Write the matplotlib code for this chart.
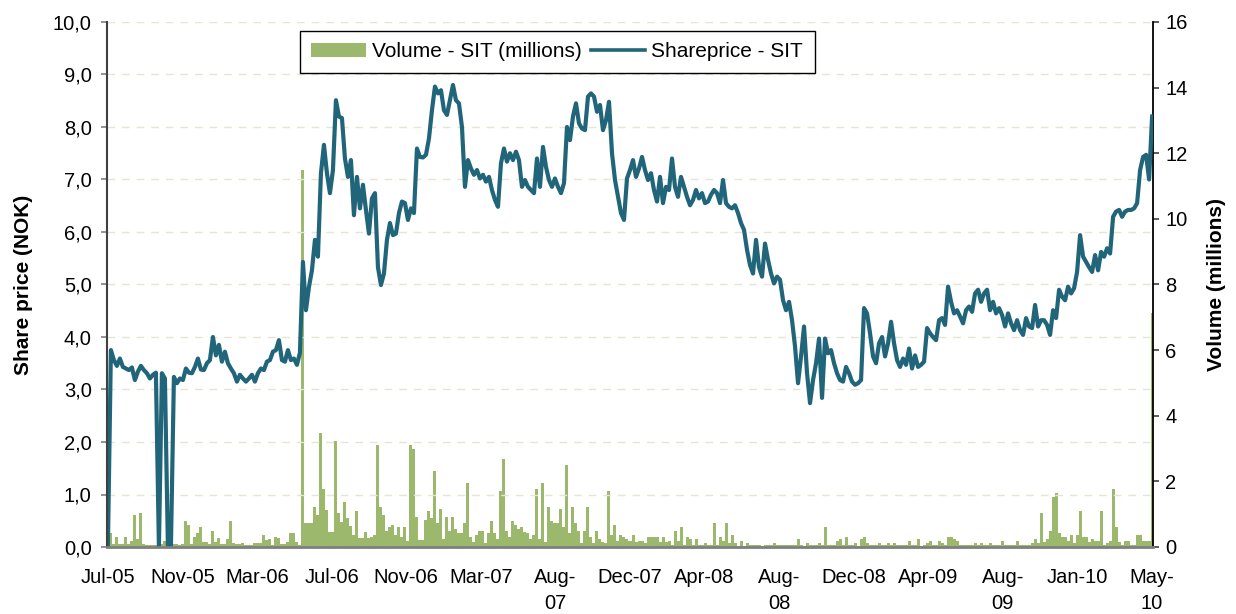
import numpy as np
import matplotlib
matplotlib.use('Agg')
import matplotlib.pyplot as plt
from matplotlib.ticker import FuncFormatter, MultipleLocator
from matplotlib.patches import Patch
from matplotlib.lines import Line2D

# share price (NOK), roughly every 3rd trading day, Jul-05 .. May-10
price = [
    0.0, 3.75, 3.56, 3.45, 3.59, 3.43, 3.40, 3.37, 3.42, 3.18,
    3.34, 3.45, 3.37, 3.31, 3.21, 3.28, 3.32, 0.0, 3.31, 3.21,
    0.0, 0.0, 3.24, 3.12, 3.21, 3.18, 3.40, 3.32, 3.31, 3.43,
    3.59, 3.38, 3.37, 3.50, 3.56, 4.00, 3.65, 3.85, 3.53, 3.72,
    3.50, 3.40, 3.31, 3.15, 3.28, 3.21, 3.15, 3.21, 3.28, 3.15,
    3.31, 3.40, 3.37, 3.53, 3.56, 3.72, 3.75, 3.94, 3.56, 3.53,
    3.75, 3.56, 3.59, 3.47, 3.70, 5.43, 4.51, 4.95, 5.27, 5.85,
    5.53, 7.12, 7.66, 7.12, 6.74, 7.18, 8.51, 8.20, 8.17, 7.40,
    7.05, 7.37, 6.32, 7.05, 6.45, 6.90, 6.42, 5.97, 6.64, 6.74,
    5.33, 4.99, 5.21, 5.85, 6.17, 5.94, 5.97, 6.36, 6.58, 6.55,
    6.23, 6.45, 6.36, 7.59, 7.43, 7.42, 7.47, 7.78, 8.32, 8.77,
    8.64, 8.70, 8.32, 8.23, 8.51, 8.80, 8.51, 8.45, 8.00, 6.86,
    7.37, 7.21, 7.09, 7.18, 7.02, 7.09, 6.96, 7.05, 6.80, 6.61,
    6.48, 7.31, 7.59, 7.34, 7.50, 7.37, 7.53, 7.37, 6.86, 6.99,
    6.86, 6.80, 6.74, 7.40, 6.86, 7.62, 7.24, 6.99, 6.86, 7.02,
    6.86, 6.74, 6.93, 8.00, 7.75, 8.20, 8.45, 8.07, 7.97, 7.94,
    8.58, 8.64, 8.58, 8.29, 8.42, 7.94, 8.13, 8.48, 7.50, 6.99,
    6.67, 6.36, 6.23, 7.02, 7.18, 7.37, 7.05, 7.21, 7.43, 7.18,
    6.99, 7.12, 6.80, 6.58, 7.05, 6.55, 6.86, 6.80, 7.40, 6.86,
    6.67, 7.05, 6.86, 6.67, 6.51, 6.61, 6.80, 6.64, 6.74, 6.55,
    6.58, 6.71, 6.80, 6.74, 6.55, 6.99, 6.55, 6.48, 6.45, 6.51,
    6.36, 6.17, 6.04, 5.66, 5.37, 5.21, 5.85, 5.33, 5.15, 5.78,
    5.47, 5.21, 5.02, 5.15, 5.09, 4.70, 4.51, 4.67, 4.32, 3.82,
    3.12, 3.63, 4.20, 3.31, 2.74, 3.18, 3.50, 3.97, 2.84, 3.97,
    3.69, 3.75, 3.50, 3.31, 3.18, 3.15, 3.43, 3.31, 3.15, 3.09,
    3.12, 3.18, 4.55, 4.45, 4.07, 3.63, 3.50, 3.88, 4.00, 3.63,
    3.88, 4.29, 3.88, 3.56, 3.43, 3.59, 3.47, 3.78, 3.40, 3.65,
    3.43, 3.47, 3.53, 4.17, 4.07, 4.00, 3.94, 4.32, 4.36, 4.23,
    4.96, 4.67, 4.45, 4.51, 4.39, 4.26, 4.51, 4.58, 4.48, 4.83,
    4.90, 4.67, 4.83, 4.90, 4.51, 4.67, 4.45, 4.55, 4.42, 4.20,
    4.45, 4.26, 4.13, 4.32, 4.13, 4.04, 4.36, 4.20, 4.17, 4.61,
    4.20, 4.32, 4.32, 4.23, 4.04, 4.51, 4.36, 4.90, 4.77, 4.70,
    4.96, 4.83, 4.93, 5.24, 5.94, 5.53, 5.43, 5.33, 5.24, 5.56,
    5.27, 5.62, 5.53, 5.69, 5.59, 6.29, 6.39, 6.42, 6.29, 6.39,
    6.42, 6.42, 6.45, 6.55, 7.18, 7.43, 7.47, 7.00, 8.20,
]

# traded volume (millions of shares), same points
volume = [
    0.00, 0.42, 0.10, 0.30, 0.10, 0.10, 0.30, 0.10, 0.18, 0.98,
    0.25, 1.03, 0.10, 0.06, 0.06, 0.06, 0.06, 0.00, 0.10, 0.18,
    0.00, 0.00, 0.10, 0.10, 0.06, 0.10, 0.80, 0.67, 0.08, 0.31,
    0.42, 0.60, 0.16, 0.14, 0.10, 0.49, 0.16, 0.26, 0.08, 0.08,
    0.25, 0.80, 0.12, 0.08, 0.08, 0.12, 0.06, 0.06, 0.06, 0.12,
    0.12, 0.12, 0.37, 0.21, 0.25, 0.06, 0.30, 0.26, 0.10, 0.10,
    0.16, 0.42, 0.42, 0.16, 0.06, 11.5, 0.72, 0.72, 0.72, 1.21,
    0.98, 3.47, 1.76, 1.13, 0.47, 0.47, 3.22, 1.03, 0.77, 1.38,
    0.87, 0.64, 0.37, 1.11, 0.26, 0.26, 0.47, 0.26, 0.31, 0.37,
    3.11, 1.21, 0.98, 0.50, 0.60, 0.67, 0.37, 0.60, 0.31, 0.60,
    0.17, 3.11, 2.98, 0.90, 0.21, 0.21, 0.82, 1.11, 0.87, 2.33,
    0.72, 1.15, 0.24, 0.90, 0.49, 0.90, 0.54, 0.42, 0.42, 0.72,
    1.94, 0.31, 0.16, 0.37, 0.49, 0.49, 0.11, 0.42, 0.79, 0.42,
    0.24, 1.71, 2.67, 0.49, 0.30, 0.79, 0.67, 0.54, 0.60, 0.47,
    0.42, 0.24, 0.37, 1.77, 0.24, 1.94, 0.16, 1.21, 0.79, 0.72,
    0.72, 1.15, 0.60, 2.50, 0.42, 1.21, 0.72, 0.49, 0.11, 0.49,
    1.21, 0.30, 0.11, 0.49, 0.24, 0.16, 0.11, 1.71, 0.37, 0.67,
    0.18, 0.37, 0.30, 0.24, 0.18, 0.37, 0.16, 0.18, 0.18, 0.11,
    0.30, 0.30, 0.30, 0.30, 0.16, 0.30, 0.16, 0.18, 0.06, 0.49,
    0.18, 0.60, 0.06, 0.30, 0.24, 0.06, 0.24, 0.06, 0.06, 0.11,
    0.06, 0.06, 0.72, 0.06, 0.30, 0.18, 0.72, 0.11, 0.37, 0.11,
    0.03, 0.18, 0.03, 0.11, 0.05, 0.05, 0.05, 0.05, 0.03, 0.05,
    0.05, 0.05, 0.11, 0.05, 0.05, 0.05, 0.05, 0.05, 0.05, 0.05,
    0.24, 0.06, 0.03, 0.11, 0.05, 0.05, 0.05, 0.11, 0.05, 0.60,
    0.05, 0.05, 0.05, 0.18, 0.24, 0.05, 0.30, 0.05, 0.05, 0.11,
    0.03, 0.24, 0.30, 0.11, 0.05, 0.05, 0.05, 0.11, 0.05, 0.05,
    0.11, 0.05, 0.11, 0.05, 0.05, 0.05, 0.05, 0.18, 0.05, 0.05,
    0.24, 0.03, 0.05, 0.11, 0.18, 0.05, 0.05, 0.18, 0.11, 0.05,
    0.30, 0.30, 0.24, 0.18, 0.05, 0.05, 0.05, 0.05, 0.05, 0.11,
    0.05, 0.11, 0.05, 0.05, 0.11, 0.05, 0.05, 0.05, 0.18, 0.05,
    0.05, 0.05, 0.05, 0.18, 0.05, 0.05, 0.05, 0.05, 0.11, 0.24,
    0.11, 1.03, 0.16, 0.24, 0.49, 1.53, 1.64, 0.42, 0.30, 0.30,
    0.18, 0.37, 0.11, 0.37, 1.10, 0.30, 0.30, 0.16, 0.24, 0.18,
    0.18, 1.10, 0.05, 0.11, 0.18, 1.77, 0.60, 0.16, 0.05, 0.18,
    0.18, 0.05, 0.05, 0.37, 0.37, 0.18, 0.18, 0.18, 7.13,
]

xlabels = ['Jul-05', 'Nov-05', 'Mar-06', 'Jul-06', 'Nov-06', 'Mar-07', 'Aug-\n07',
           'Dec-07', 'Apr-08', 'Aug-\n08', 'Dec-08', 'Apr-09', 'Aug-\n09', 'Jan-10',
           'May-\n10']

TEAL = '#21657a'
GREEN = '#9cb86c'
GRID = '#e6e4d2'

plt.rcParams['font.family'] = ['Liberation Sans', 'DejaVu Sans']

W, H = 1236, 614
fig = plt.figure(figsize=(W / 100, H / 100), dpi=100)
ax = fig.add_axes([107 / W, 1 - 547 / H, (1153 - 107) / W, (547 - 22) / H])
ax2 = ax.twinx()
# price line above the volume bars
ax.set_zorder(ax2.get_zorder() + 1)
ax.patch.set_visible(False)

x = np.arange(len(price))
ax2.bar(x, volume, width=1.0, color=GREEN, linewidth=0)
ax.plot(x, price, color=TEAL, lw=3.0, solid_joinstyle='round')

ax.set_xlim(-0.3, len(price) - 1 + 0.3)
ax.set_ylim(0, 10)
ax2.set_ylim(0, 16)
ax.yaxis.set_major_locator(MultipleLocator(1))
ax2.yaxis.set_major_locator(MultipleLocator(2))
ax.yaxis.set_major_formatter(FuncFormatter(lambda v, p: f"{v:.1f}".replace('.', ',')))

ax.grid(axis='y', color=GRID, linestyle=(0, (5.5, 5)), lw=1.0)
ax.set_axisbelow(True)

ax.set_xticks(np.linspace(0, len(price) - 1, len(xlabels)))
ax.set_xticklabels(xlabels)
for t in ax.get_xticklabels():
    t.set_linespacing(1.45)

for s in ['top', 'right']:
    ax.spines[s].set_visible(False)
for s in ['top', 'left', 'bottom']:
    ax2.spines[s].set_visible(False)
ax.spines['left'].set_color('#404040')
ax.spines['left'].set_linewidth(1.5)
ax.spines['bottom'].set_color('#7f7f7f')
ax.spines['bottom'].set_linewidth(2)
ax2.spines['right'].set_color('black')
ax2.spines['right'].set_linewidth(1.3)

ax.tick_params(axis='y', direction='out', length=4, width=1.2, color='#808080',
               pad=7, labelsize=14.5)
ax.tick_params(axis='x', length=0, pad=15, labelsize=14.5)
ax2.tick_params(axis='y', direction='out', length=4, width=1.2, color='#404040',
                pad=5, labelsize=14.5)

fig.text(24 / W, 1 - 284.5 / H, 'Share price (NOK)', rotation=90, ha='center',
         va='center', fontsize=15, fontweight='bold')
fig.text(1217 / W, 1 - 284.5 / H, 'Volume (millions)', rotation=90, ha='center',
         va='center', fontsize=15, fontweight='bold')

handles = [Patch(facecolor=GREEN, edgecolor='none'),
           Line2D([], [], color=TEAL, lw=2.6)]
labels = ['Volume - SIT (millions)', 'Shareprice - SIT']
leg = fig.legend(handles, labels, loc='upper left', bbox_to_anchor=(300 / W, 1 - 31 / H),
                 ncol=2, frameon=True, fancybox=False, edgecolor='black', framealpha=1,
                 fontsize=15, handlelength=2.6, handletextpad=0.3, columnspacing=0.45,
                 borderpad=0.55, borderaxespad=0)
leg.get_frame().set_linewidth(1.0)

fig.savefig('out.png', dpi=100)
